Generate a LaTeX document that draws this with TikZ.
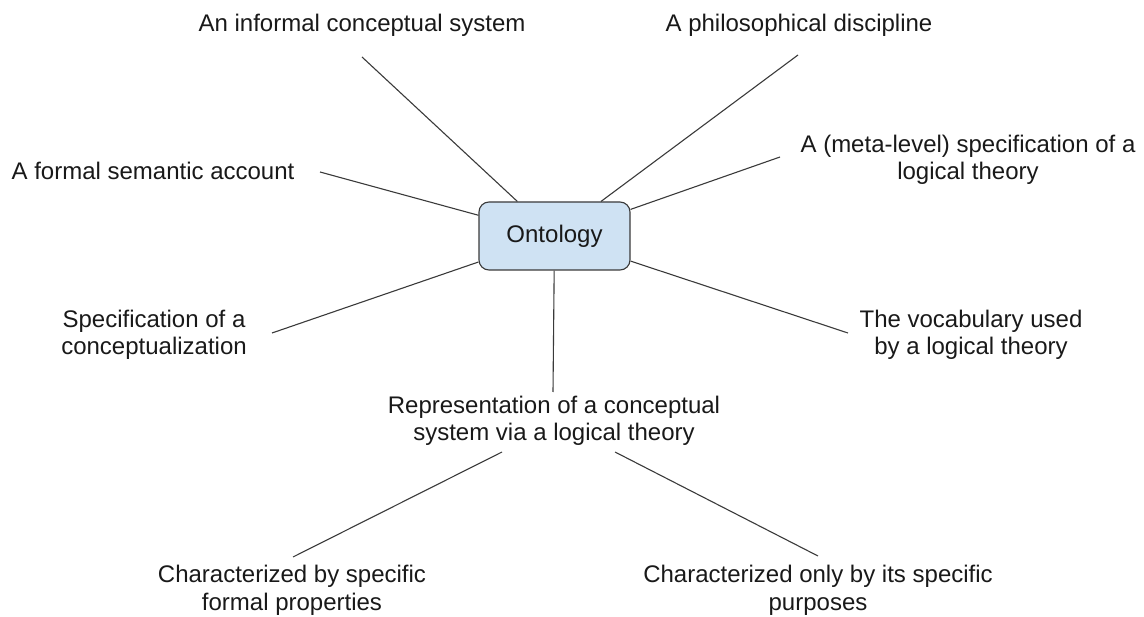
\documentclass[tikz,border=0pt]{standalone}
\usepackage{fontspec}
\setmainfont{Liberation Sans}
\definecolor{boxfill}{HTML}{CFE2F3}
\definecolor{inkline}{HTML}{3A3A3A}
\begin{document}
\begin{tikzpicture}[x=1pt,y=-1pt,
  label/.style={inner sep=0pt, align=center, anchor=base,
                font=\fontsize{24}{27.5}\selectfont, text=black!90},
  hub/.style={draw=inkline, fill=boxfill, rounded corners=10pt, line width=1.1pt,
              minimum width=151pt, minimum height=68pt, inner sep=0pt,
              font=\fontsize{24}{27.5}\selectfont, text=black!90},
  link/.style={draw=inkline, line width=1.1pt}]
\useasboundingbox (0,0) rectangle (1144,617);

% central concept
\node[hub] (onto) at (554.5,236) {Ontology};

% surrounding readings of the term (base anchor = baseline of the last line)
\node[label] (inf)    at (362,32)  {An informal conceptual system};
\node[label] (phil)   at (799,32)  {A philosophical discipline};
\node[label] (formal) at (153,180) {A formal semantic account};
\node[label] (meta)   at (968,180) {A (meta-level) specification of a\\logical theory};
\node[label] (spec)   at (154,355) {Specification of a\\conceptualization};
\node[label] (vocab)  at (971,355) {The vocabulary used\\by a logical theory};
\node[label] (rep)    at (554,441) {Representation of a conceptual\\system via a logical theory};
\node[label] (charA)  at (292,610) {Characterized by specific\\formal properties};
\node[label] (charB)  at (818,610) {Characterized only by its specific\\purposes};

% free ends of the connectors, just short of each label
\coordinate (infEnd)    at (362,57);
\coordinate (philEnd)   at (798,55);
\coordinate (formalEnd) at (320,172);
\coordinate (metaEnd)   at (780,157);
\coordinate (specEnd)   at (272,333);
\coordinate (vocabEnd)  at (848,333);
\coordinate (repEnd)    at (553,392);
\coordinate (repL)      at (502,452);
\coordinate (repR)      at (615,452);
\coordinate (charAEnd)  at (293,557);
\coordinate (charBEnd)  at (818,556);

\draw[link] (onto) -- (infEnd);
\draw[link] (onto) -- (philEnd);
\draw[link] (onto) -- (formalEnd);
\draw[link] (onto) -- (metaEnd);
\draw[link] (onto) -- (specEnd);
\draw[link] (onto) -- (vocabEnd);
\draw[link] (onto) -- (repEnd);
\draw[link] (repL) -- (charAEnd);
\draw[link] (repR) -- (charBEnd);
\end{tikzpicture}
\end{document}
